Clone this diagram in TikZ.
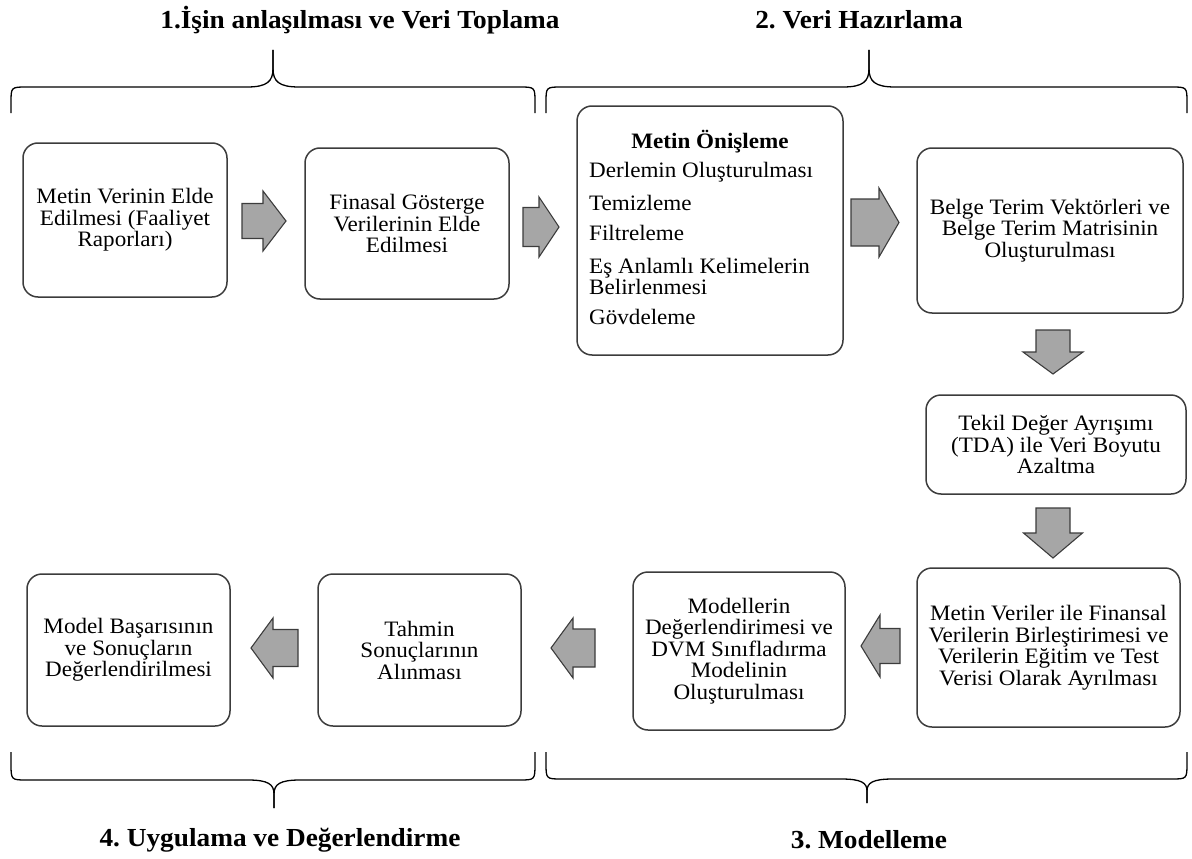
\documentclass[tikz,border=0pt]{standalone}
\usepackage{fontspec}
\setmainfont{Liberation Serif}[FakeStretch=1.05]
\frenchspacing

\definecolor{edge}{HTML}{3C3C3C}
\definecolor{arrowfill}{HTML}{A6A6A6}

\tikzset{
  stage/.style={draw=edge, line width=1.5pt, rounded corners=15pt, fill=white,
    align=center, inner sep=0pt, font=\fontsize{22}{21.5}\selectfont},
  arrowbody/.style={draw=edge, fill=arrowfill, line width=1.1pt, line join=miter},
  heading/.style={inner sep=0pt, font=\fontsize{26}{28}\selectfont\bfseries},
  listitem/.style={anchor=base west, inner sep=0pt, font=\fontsize{22}{21.5}\selectfont},
  curly/.style={black, line width=1.3pt},
}

% curly brace: left x, tip x, right x, end y, bar y, tip y
\newcommand{\phasebrace}[6]{%
  \draw[curly] (#1,#4) -- (#1,{#4+0.4*(#5-#4)}) .. controls (#1,#5) and (#1,#5) .. ({#1+16},#5)
    -- ({#2-26},#5) .. controls ({#2-6},#5) and (#2,{#5+0.15*(#6-#5)}) .. (#2,{#5+0.5*(#6-#5)}) -- (#2,#6);
  \draw[curly] (#2,#6) -- (#2,{#5+0.5*(#6-#5)}) .. controls (#2,{#5+0.15*(#6-#5)}) and ({#2+6},#5) .. ({#2+26},#5)
    -- ({#3-16},#5) .. controls (#3,#5) and (#3,#5) .. (#3,{#4+0.4*(#5-#4)}) -- (#3,#4);
}

% block arrow: name, x, y, rotation, length, shaft half width, head half width, head length
\newcommand{\flowarrow}[8]{%
  \coordinate (#1) at (#2,#3);
  \draw[arrowbody, shift={(#1)}, rotate=#4]
    ({-#5/2},{-#6}) -- ({#5/2-#8},{-#6}) -- ({#5/2-#8},{-#7}) -- ({#5/2},0)
    -- ({#5/2-#8},{#7}) -- ({#5/2-#8},{#6}) -- ({-#5/2},{#6}) -- cycle;
}

\begin{document}
\begin{tikzpicture}[x=1pt,y=-1pt]
\useasboundingbox (0,0) rectangle (1192,859);

% phase headings
\node[heading] (h1) at (360,20) {1.İşin anlaşılması ve Veri Toplama};
\node[heading] (h2) at (859,20) {2. Veri Hazırlama};
\node[heading] (h4) at (280,840) {4. Uygulama ve Değerlendirme};
\node[heading] (h3) at (869,840) {3. Modelleme};

% phase braces
\phasebrace{11}{273}{535}{113}{87}{50}
\phasebrace{546}{869}{1187}{113}{87}{50}
\phasebrace{11}{274}{535}{752}{780}{808}
\phasebrace{546}{867}{1187}{752}{779}{803}

% process steps
\node[stage, minimum width=204pt, minimum height=154pt] (collect) at (125,220)
  {Metin Verinin Elde\\Edilmesi (Faaliyet\\Raporları)};
\node[stage, minimum width=204pt, minimum height=151pt] (finance) at (407,223.5)
  {Finasal Gösterge\\Verilerinin Elde\\Edilmesi};
\node[stage, minimum width=266pt, minimum height=249pt] (prep) at (710,230.5) {};
\node[stage, minimum width=266pt, minimum height=165pt] (dtm) at (1050,230.5)
  {Belge Terim Vektörleri ve\\Belge Terim Matrisinin\\Oluşturulması};
\node[stage, minimum width=260pt, minimum height=99pt] (svd) at (1056,444.5)
  {Tekil Değer Ayrışımı\\(TDA) ile Veri Boyutu\\Azaltma};
\node[stage, minimum width=263pt, minimum height=159pt] (merge) at (1048.5,647.5)
  {Metin Veriler ile Finansal\\Verilerin Birleştirimesi ve\\Verilerin Eğitim ve Test\\Verisi Olarak Ayrılması};
\node[stage, minimum width=212pt, minimum height=158pt] (svm) at (739,651)
  {Modellerin\\Değerlendirimesi ve\\DVM Sınıfladırma\\Modelinin\\Oluşturulması};
\node[stage, minimum width=203pt, minimum height=152pt] (predict) at (419.5,650)
  {Tahmin\\Sonuçlarının\\Alınması};
\node[stage, minimum width=203pt, minimum height=152pt] (evaluate) at (128.5,650)
  {Model Başarısının\\ve Sonuçların\\Değerlendirilmesi};

% preprocessing steps inside the text preprocessing box
\node[inner sep=0pt, anchor=base, font=\fontsize{22}{21.5}\selectfont\bfseries] (preptitle) at (710,148) {Metin Önişleme};
\node[listitem] (corpus) at (589,177) {Derlemin Oluşturulması};
\node[listitem] (clean) at (589,210) {Temizleme};
\node[listitem] (filter) at (589,240) {Filtreleme};
\node[listitem] (synonym) at (589,273) {Eş Anlamlı Kelimelerin};
\node[listitem] (synonymb) at (589,294) {Belirlenmesi};
\node[listitem] (stem) at (589,324) {Gövdeleme};

% block arrows between steps
\flowarrow{a1}{264}{221}{0}{44}{17.5}{30}{23}
\flowarrow{a2}{541}{227}{0}{36}{19.5}{30}{20}
\flowarrow{a3}{875}{222.5}{0}{48}{23.5}{34.5}{20}
\flowarrow{a4}{1053}{352}{-90}{44}{17}{30}{22}
\flowarrow{a5}{1053}{533}{-90}{50}{17}{29.5}{25}
\flowarrow{a6}{880.5}{646}{180}{39}{17.5}{31}{19}
\flowarrow{a7}{573}{648}{180}{44}{19}{30}{22}
\flowarrow{a8}{274.5}{648}{180}{47}{18.5}{30}{22}
\end{tikzpicture}
\end{document}
